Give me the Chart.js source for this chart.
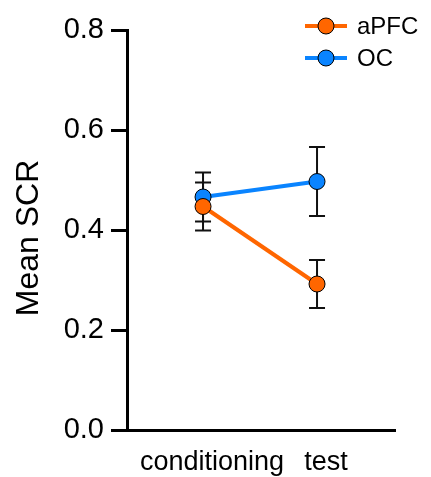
<!DOCTYPE html>
<html>
<head>
<meta charset="utf-8">
<script src="https://cdn.jsdelivr.net/npm/chart.js@4"></script>
<style>
  html, body { margin: 0; padding: 0; background: #fff; }
  #wrap { width: 431px; height: 477px; }
</style>
</head>
<body>
<div id="wrap"><canvas id="chart"></canvas></div>
<script>
const categories = ["conditioning", "test"];
const apfcMean = [0.447, 0.292];
const apfcErr = [0.048, 0.048];
const ocMean = [0.466, 0.497];
const ocErr = [0.049, 0.069];
const yTicks = [0.0, 0.2, 0.4, 0.6, 0.8];
const yTitle = "Mean SCR";

const font = "'Liberation Sans', Arial, Helvetica, sans-serif";

function toPoints(means, errs) {
  return means.map((v, i) => ({ x: i, y: v, err: errs[i] }));
}

// error bars drawn below the lines and markers
const errorBars = {
  id: "errorBars",
  beforeDatasetsDraw(chart) {
    const ctx = chart.ctx;
    const xs = chart.scales.x, ys = chart.scales.y;
    ctx.save();
    ctx.strokeStyle = "#111";
    ctx.lineWidth = 2;
    chart.data.datasets.forEach(ds => {
      ds.data.forEach(p => {
        const x = xs.getPixelForValue(p.x);
        const top = ys.getPixelForValue(p.y + p.err);
        const bot = ys.getPixelForValue(p.y - p.err);
        ctx.beginPath();
        ctx.moveTo(x, top); ctx.lineTo(x, bot);
        ctx.moveTo(x - 8, top); ctx.lineTo(x + 8, top);
        ctx.moveTo(x - 8, bot); ctx.lineTo(x + 8, bot);
        ctx.stroke();
      });
    });
    ctx.restore();
  }
};

// legend with line + marker over the top right corner, plus the y title
const lineLegend = {
  id: "lineLegend",
  afterDraw(chart) {
    const ctx = chart.ctx;
    ctx.save();
    chart.data.datasets.forEach((ds, i) => {
      const y = 26 + i * 32;
      ctx.strokeStyle = ds.borderColor;
      ctx.lineWidth = 4;
      ctx.beginPath();
      ctx.moveTo(305, y); ctx.lineTo(347, y);
      ctx.stroke();
      ctx.beginPath();
      ctx.arc(326, y, 8, 0, Math.PI * 2);
      ctx.fillStyle = ds.pointBackgroundColor;
      ctx.fill();
      ctx.lineWidth = 1;
      ctx.strokeStyle = "#000";
      ctx.stroke();
      ctx.fillStyle = "#000";
      ctx.font = "24px " + font;
      ctx.textBaseline = "middle";
      ctx.fillText(ds.label, 357, y + 1);
    });
    ctx.translate(38, 238);
    ctx.rotate(-Math.PI / 2);
    ctx.font = "32px " + font;
    ctx.textAlign = "center";
    ctx.textBaseline = "alphabetic";
    ctx.fillStyle = "#000";
    ctx.fillText(yTitle, 0, 0);
    ctx.restore();
  }
};

new Chart("chart", {
  type: "line",
  data: {
    datasets: [
      {
        label: "aPFC",
        data: toPoints(apfcMean, apfcErr),
        borderColor: "#FF6600",
        pointBackgroundColor: "#FF6600",
        pointBorderColor: "#000",
        pointBorderWidth: 1,
        pointRadius: 8,
        borderWidth: 4
      },
      {
        label: "OC",
        data: toPoints(ocMean, ocErr),
        borderColor: "#0A84FF",
        pointBackgroundColor: "#0A84FF",
        pointBorderColor: "#000",
        pointBorderWidth: 1,
        pointRadius: 8,
        borderWidth: 4
      }
    ]
  },
  options: {
    responsive: true,
    maintainAspectRatio: false,
    animation: false,
    layout: { padding: { top: 30, right: 36, left: 0, bottom: 0 } },
    plugins: { legend: { display: false }, tooltip: { enabled: false } },
    scales: {
      x: {
        type: "linear",
        min: -0.667,
        max: 1.684,
        afterBuildTicks: axis => { axis.ticks = categories.map((c, i) => ({ value: i })); },
        afterFit: axis => { axis.height = 47; },
        ticks: {
          callback: v => categories[v],
          color: "#000",
          font: { family: font, size: 27 },
          padding: 16,
          labelOffset: 9,
          maxRotation: 0
        },
        grid: { display: false, drawTicks: false },
        border: { display: true, color: "#000", width: 3 }
      },
      y: {
        min: 0,
        max: 0.8,
        afterBuildTicks: axis => { axis.ticks = yTicks.map(v => ({ value: v })); },
        afterFit: axis => { axis.width = 127; },
        ticks: {
          callback: v => v.toFixed(1),
          color: "#000",
          font: { family: font, size: 29 },
          padding: 7
        },
        grid: {
          drawOnChartArea: false,
          drawTicks: true,
          tickLength: 16,
          tickWidth: 3,
          color: "#000"
        },
        border: { display: true, color: "#000", width: 3 }
      }
    }
  },
  plugins: [errorBars, lineLegend]
});
</script>
</body>
</html>
